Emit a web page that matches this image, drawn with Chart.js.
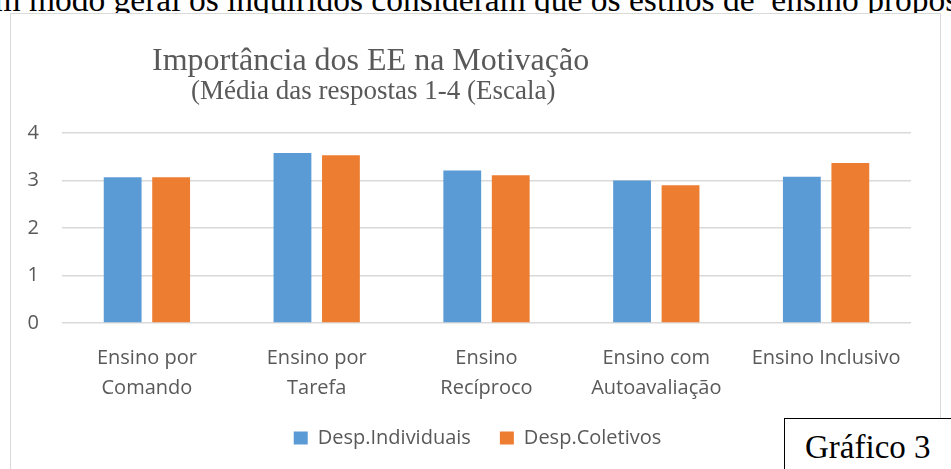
<!DOCTYPE html>
<html lang="pt">
<head>
<meta charset="utf-8">
<script src="https://cdn.jsdelivr.net/npm/chart.js@4.4.0/dist/chart.umd.min.js"></script>
<style>
  html, body { margin: 0; padding: 0; background: #fff; overflow: hidden; }
  body { width: 951px; height: 469px; position: relative; }
  #linhaTexto {
    position: absolute; left: -26px; top: -17px; white-space: nowrap;
    font-family: "Liberation Serif", serif; font-size: 33.5px; line-height: 33px; color: #000;
  }
  #caixa {
    position: absolute; left: 10px; top: 13px; width: 929px; height: 470px;
    border: 1px solid #d9d9d9; background: #fff;
  }
  #grafico { position: absolute; left: 0; top: 0; }
  #titulo {
    position: absolute; left: 152px; top: 43px; white-space: nowrap;
    font-family: "Liberation Serif", serif; font-size: 32px; line-height: 32px; color: #595959;
  }
  #subtitulo {
    position: absolute; left: 191px; top: 77px; white-space: nowrap;
    font-family: "Liberation Serif", serif; font-size: 27px; line-height: 27px; color: #595959;
  }
  #rotulo {
    position: absolute; left: 784px; top: 418px; width: 200px; height: 80px;
    border: 1.5px solid #000; background: #fff;
    font-family: "Liberation Serif", serif; font-size: 33px; line-height: 33px; color: #000;
  }
  #rotulo span { position: absolute; left: 20px; top: 12px; white-space: nowrap; }
</style>
</head>
<body>
<div id="linhaTexto">Em modo geral os inquiridos consideram que os estilos de&nbsp; ensino propostos</div>
<div id="caixa"><canvas id="grafico" width="929" height="470"></canvas></div>
<div id="titulo">Importância dos EE na Motivação</div>
<div id="subtitulo">(Média das respostas 1-4 (Escala)</div>
<div id="rotulo"><span>Gráfico 3</span></div>

<script>
// Dados
const categorias = [
    ['Ensino por', 'Comando'],
    ['Ensino por', 'Tarefa'],
    ['Ensino', 'Recíproco'],
    ['Ensino com', 'Autoavaliação'],
    'Ensino Inclusivo'
];
const despIndividuais = [3.07, 3.58, 3.21, 3.00, 3.08];
const despColetivos = [3.07, 3.53, 3.11, 2.90, 3.37];
const ticksY = [0, 1, 2, 3, 4];

const corTexto = '#595959';
const fonteEixo = { family: '"Open Sans", sans-serif', size: 20 };

// a legenda do original fica um pouco à esquerda do centro da área do gráfico
const deslocaLegenda = {
    id: 'deslocaLegenda',
    afterLayout(chart) {
        if (!chart.legend) return;
        chart.legend.left -= 9;
        chart.legend.right -= 9;
    }
};

const ctx = document.getElementById('grafico').getContext('2d');
new Chart(ctx, {
    type: 'bar',
    data: {
        labels: categorias,
        datasets: [
            { label: 'Desp.Individuais', data: despIndividuais, backgroundColor: '#5b9bd5' },
            { label: 'Desp.Coletivos', data: despColetivos, backgroundColor: '#ed7d31' }
        ]
    },
    options: {
        responsive: false,
        animation: false,
        devicePixelRatio: 1,
        layout: { padding: { left: 0, right: 29, top: 119, bottom: 26 } },
        datasets: { bar: { categoryPercentage: 0.571, barPercentage: 0.78 } },
        plugins: {
            tooltip: { enabled: false },
            legend: {
                position: 'bottom',
                fullSize: false,
                labels: {
                    boxWidth: 14, boxHeight: 13, padding: 29,
                    color: corTexto, font: fonteEixo
                }
            }
        },
        scales: {
            x: {
                grid: { display: false },
                border: { display: false },
                ticks: {
                    color: corTexto, padding: 12, maxRotation: 0, autoSkip: false,
                    font: { ...fonteEixo, lineHeight: 1.5 }
                },
                afterFit: function(scale) { scale.height = 76; }
            },
            y: {
                min: 0, max: 4,
                afterBuildTicks: function(scale) { scale.ticks = ticksY.map(v => ({ value: v })); },
                grid: { color: '#d9d9d9', lineWidth: 1.5, drawTicks: false },
                border: { display: false },
                ticks: { color: corTexto, padding: 23, font: fonteEixo },
                afterFit: function(scale) { scale.width = 51; }
            }
        }
    },
    plugins: [deslocaLegenda]
});
</script>
</body>
</html>
